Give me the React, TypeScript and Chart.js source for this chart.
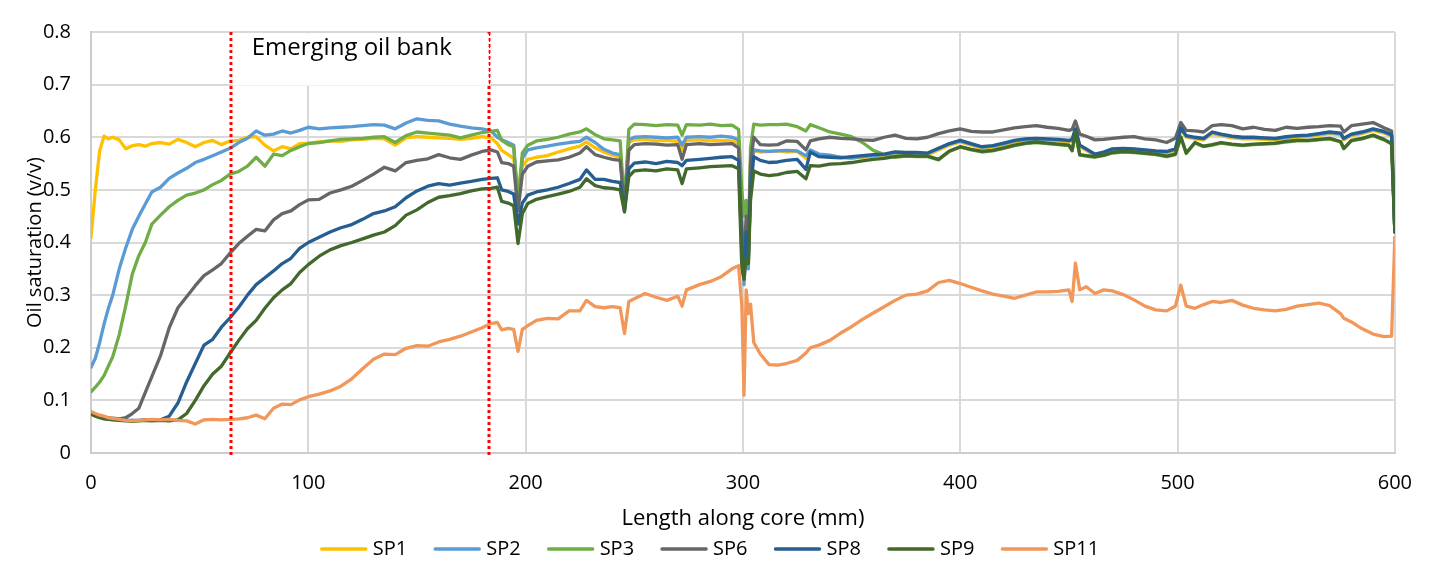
import { useEffect, useRef } from "react";
import { Chart, registerables } from "chart.js";

Chart.register(...registerables);

// Length along core (mm) – shared sample positions for all series
const lengthMm = [
  0, 2, 4, 6, 8, 10, 13, 16, 19, 22,
  25, 28, 32, 36, 40, 44, 48, 52, 56, 60,
  64, 68, 72, 76, 80, 84, 88, 92, 96, 100,
  105, 110, 115, 120, 125, 130, 135, 140, 145, 150,
  155, 160, 165, 170, 175, 180, 184, 187, 189, 192,
  194.5, 196.5, 198.5, 201, 205, 210, 215, 220, 225, 228,
  232, 236, 240, 243.5, 245.5, 247.5, 250, 255, 260, 265,
  270, 272, 274, 280, 285, 290, 295, 298, 299.5, 300.5,
  301.5, 302.5, 303.5, 305, 308, 312, 316, 320, 325, 329,
  331, 335, 340, 345, 350, 355, 360, 365, 370, 375,
  380, 385, 390, 395, 400, 405, 410, 415, 420, 425,
  430, 435, 440, 445, 450, 451.5, 453, 455, 458, 462,
  466, 470, 475, 480, 485, 490, 495, 499, 501.5, 504,
  508, 512, 516, 520, 525, 530, 535, 540, 545, 550,
  555, 560, 565, 570, 575, 576.5, 580, 585, 590, 595,
  598.5, 600,
];

const sp1 = [
  0.41, 0.5, 0.575, 0.602, 0.597, 0.6, 0.595, 0.578, 0.584, 0.586,
  0.583, 0.588, 0.59, 0.587, 0.596, 0.59, 0.582, 0.59, 0.594, 0.586,
  0.593, 0.594, 0.6, 0.601, 0.585, 0.574, 0.582, 0.578, 0.588, 0.589,
  0.591, 0.593, 0.592, 0.595, 0.596, 0.598, 0.597, 0.585, 0.599, 0.601,
  0.6, 0.599, 0.598, 0.596, 0.598, 0.601, 0.599, 0.588, 0.575, 0.567,
  0.56, 0.5, 0.545, 0.558, 0.562, 0.565, 0.572, 0.578, 0.583, 0.591,
  0.58, 0.572, 0.566, 0.562, 0.47, 0.59, 0.595, 0.596, 0.593, 0.594,
  0.592, 0.575, 0.594, 0.595, 0.593, 0.594, 0.593, 0.588, 0.45, 0.34,
  0.42, 0.36, 0.52, 0.574, 0.572, 0.573, 0.574, 0.572, 0.573, 0.56,
  0.575, 0.566, 0.565, 0.562, 0.56, 0.562, 0.564, 0.565, 0.569, 0.568,
  0.568, 0.567, 0.576, 0.585, 0.591, 0.585, 0.579, 0.581, 0.586, 0.591,
  0.594, 0.595, 0.594, 0.593, 0.591, 0.593, 0.612, 0.582, 0.575, 0.565,
  0.569, 0.575, 0.576, 0.575, 0.573, 0.571, 0.57, 0.575, 0.614, 0.6,
  0.597, 0.595, 0.607, 0.603, 0.599, 0.597, 0.597, 0.596, 0.595, 0.598,
  0.6, 0.601, 0.604, 0.607, 0.605, 0.595, 0.603, 0.607, 0.613, 0.608,
  0.602, 0.42,
];

const sp2 = [
  0.163, 0.18, 0.21, 0.245, 0.275, 0.3, 0.35, 0.39, 0.425, 0.45,
  0.473, 0.496, 0.505, 0.522, 0.532, 0.541, 0.552, 0.558, 0.565, 0.572,
  0.579, 0.59, 0.598, 0.612, 0.604, 0.606, 0.612, 0.608, 0.613, 0.619,
  0.616, 0.618, 0.619, 0.62, 0.622, 0.624, 0.623, 0.616, 0.627, 0.635,
  0.632, 0.631, 0.625, 0.621, 0.618, 0.616, 0.612, 0.6, 0.595, 0.59,
  0.585, 0.47, 0.56, 0.576, 0.58, 0.583, 0.587, 0.59, 0.592, 0.6,
  0.59, 0.577, 0.57, 0.567, 0.47, 0.595, 0.6, 0.601, 0.6, 0.599,
  0.6, 0.585, 0.6, 0.601, 0.6, 0.602, 0.6, 0.595, 0.43, 0.32,
  0.42, 0.35, 0.53, 0.576, 0.574, 0.573, 0.574, 0.575, 0.574, 0.565,
  0.576, 0.568, 0.566, 0.562, 0.561, 0.563, 0.565, 0.567, 0.571, 0.57,
  0.57, 0.569, 0.578, 0.587, 0.593, 0.587, 0.581, 0.583, 0.588, 0.593,
  0.596, 0.597, 0.596, 0.595, 0.593, 0.595, 0.615, 0.584, 0.577, 0.567,
  0.571, 0.577, 0.578, 0.577, 0.575, 0.573, 0.572, 0.577, 0.617, 0.602,
  0.599, 0.597, 0.609, 0.605, 0.601, 0.599, 0.599, 0.598, 0.597, 0.6,
  0.602, 0.603, 0.606, 0.609, 0.607, 0.597, 0.605, 0.609, 0.615, 0.61,
  0.604, 0.42,
];

const sp3 = [
  0.116, 0.125, 0.135, 0.147, 0.165, 0.183, 0.225, 0.28, 0.34, 0.375,
  0.4, 0.435, 0.452, 0.468, 0.48, 0.49, 0.494, 0.5, 0.51, 0.518,
  0.53, 0.535, 0.545, 0.562, 0.545, 0.568, 0.565, 0.575, 0.582, 0.588,
  0.59, 0.593, 0.596, 0.597, 0.598, 0.6, 0.601, 0.59, 0.603, 0.61,
  0.608, 0.606, 0.604, 0.599, 0.604, 0.609, 0.611, 0.613, 0.594, 0.586,
  0.582, 0.48, 0.57, 0.585, 0.593, 0.596, 0.6, 0.606, 0.61, 0.616,
  0.605, 0.597, 0.595, 0.593, 0.472, 0.615, 0.625, 0.624, 0.622, 0.624,
  0.623, 0.604, 0.624, 0.623, 0.625, 0.622, 0.623, 0.615, 0.5, 0.45,
  0.48, 0.4, 0.58, 0.625, 0.623, 0.624, 0.624, 0.625, 0.62, 0.612,
  0.624, 0.618, 0.61, 0.606, 0.601, 0.59, 0.575, 0.567, 0.562, 0.564,
  0.563, 0.563, 0.557, 0.573, 0.581, 0.576, 0.572, 0.574, 0.579, 0.584,
  0.588, 0.59, 0.588, 0.586, 0.584, 0.574, 0.609, 0.566, 0.564, 0.562,
  0.565, 0.57, 0.572, 0.571, 0.569, 0.567, 0.563, 0.567, 0.6, 0.569,
  0.589, 0.582, 0.585, 0.589, 0.586, 0.584, 0.586, 0.587, 0.588, 0.591,
  0.593, 0.593, 0.595, 0.597, 0.591, 0.578, 0.593, 0.597, 0.603, 0.595,
  0.587, 0.42,
];

const sp6 = [
  0.075, 0.072, 0.07, 0.068, 0.067, 0.066, 0.065, 0.067, 0.075, 0.085,
  0.115, 0.145, 0.185, 0.238, 0.276, 0.297, 0.318, 0.337, 0.348, 0.36,
  0.38, 0.398, 0.412, 0.425, 0.422, 0.443, 0.455, 0.46, 0.472, 0.481,
  0.482, 0.494, 0.5, 0.507, 0.518, 0.53, 0.543, 0.536, 0.552, 0.556,
  0.559, 0.567, 0.561, 0.558, 0.566, 0.573, 0.576, 0.572, 0.552, 0.55,
  0.545, 0.46, 0.53, 0.545, 0.553, 0.555, 0.557, 0.562, 0.57, 0.582,
  0.567, 0.562, 0.558, 0.556, 0.466, 0.575, 0.586, 0.588, 0.587, 0.585,
  0.586, 0.558, 0.586, 0.588, 0.586, 0.587, 0.588, 0.58, 0.42, 0.37,
  0.45, 0.4, 0.55, 0.6, 0.586, 0.585, 0.586, 0.593, 0.592, 0.576,
  0.593, 0.597, 0.6, 0.598, 0.597, 0.595, 0.594, 0.6, 0.604, 0.598,
  0.597, 0.6, 0.607, 0.612, 0.616, 0.611, 0.61, 0.61, 0.614, 0.618,
  0.62, 0.622, 0.619, 0.617, 0.613, 0.615, 0.631, 0.606, 0.602, 0.595,
  0.596, 0.598, 0.6, 0.601, 0.597, 0.595, 0.59, 0.598, 0.628, 0.613,
  0.612, 0.61, 0.622, 0.624, 0.622, 0.616, 0.619, 0.615, 0.613, 0.619,
  0.617, 0.619, 0.62, 0.622, 0.621, 0.61, 0.622, 0.625, 0.628, 0.618,
  0.612, 0.42,
];

const sp8 = [
  0.075, 0.071, 0.068, 0.066, 0.065, 0.064, 0.063, 0.062, 0.062, 0.062,
  0.063, 0.062, 0.063, 0.07, 0.095, 0.135, 0.17, 0.205, 0.216, 0.239,
  0.257, 0.277, 0.3, 0.32, 0.333, 0.346, 0.36, 0.37, 0.389, 0.4,
  0.41, 0.42, 0.428, 0.434, 0.444, 0.455, 0.46, 0.468, 0.485, 0.498,
  0.507, 0.512, 0.509, 0.513, 0.516, 0.52, 0.522, 0.523, 0.5, 0.497,
  0.492, 0.435, 0.475, 0.49, 0.496, 0.5, 0.505, 0.512, 0.52, 0.538,
  0.52, 0.52, 0.516, 0.514, 0.46, 0.54, 0.551, 0.553, 0.55, 0.554,
  0.552, 0.546, 0.556, 0.558, 0.56, 0.562, 0.563, 0.556, 0.38, 0.34,
  0.42, 0.37, 0.5, 0.563, 0.556, 0.552, 0.553, 0.556, 0.558, 0.539,
  0.572, 0.563, 0.562, 0.561, 0.563, 0.565, 0.567, 0.568, 0.572, 0.571,
  0.571, 0.57, 0.579, 0.588, 0.594, 0.588, 0.582, 0.584, 0.589, 0.594,
  0.597, 0.598, 0.597, 0.596, 0.594, 0.596, 0.616, 0.585, 0.578, 0.568,
  0.572, 0.578, 0.579, 0.578, 0.576, 0.574, 0.573, 0.578, 0.618, 0.603,
  0.6, 0.598, 0.61, 0.606, 0.602, 0.6, 0.6, 0.599, 0.598, 0.601,
  0.603, 0.604, 0.607, 0.61, 0.608, 0.598, 0.606, 0.61, 0.616, 0.611,
  0.605, 0.42,
];

const sp9 = [
  0.074, 0.07, 0.067, 0.065, 0.064, 0.063, 0.062, 0.061, 0.06, 0.061,
  0.062, 0.061, 0.062, 0.061, 0.063, 0.075, 0.1, 0.128, 0.15, 0.165,
  0.19, 0.214, 0.236, 0.252, 0.275, 0.295, 0.31, 0.322, 0.343, 0.358,
  0.374, 0.386, 0.394, 0.4, 0.407, 0.414, 0.42, 0.432, 0.452, 0.462,
  0.476, 0.486, 0.489, 0.493, 0.498, 0.502, 0.503, 0.505, 0.478, 0.475,
  0.47, 0.398, 0.455, 0.474, 0.482, 0.487, 0.492, 0.497, 0.505, 0.521,
  0.508, 0.504, 0.503, 0.5, 0.458, 0.525, 0.536, 0.538, 0.536, 0.54,
  0.538, 0.512, 0.54, 0.542, 0.544, 0.545, 0.546, 0.54, 0.35, 0.33,
  0.37, 0.36, 0.48, 0.536, 0.53, 0.527, 0.529, 0.533, 0.535, 0.521,
  0.546, 0.545, 0.549, 0.55, 0.552, 0.555, 0.558, 0.56, 0.563, 0.565,
  0.564, 0.564, 0.558, 0.574, 0.582, 0.577, 0.573, 0.575, 0.58, 0.585,
  0.589, 0.591, 0.589, 0.587, 0.585, 0.575, 0.61, 0.567, 0.565, 0.563,
  0.566, 0.571, 0.573, 0.572, 0.57, 0.568, 0.564, 0.568, 0.601, 0.57,
  0.59, 0.583, 0.586, 0.59, 0.587, 0.585, 0.587, 0.588, 0.589, 0.592,
  0.594, 0.594, 0.596, 0.598, 0.592, 0.579, 0.594, 0.598, 0.604, 0.596,
  0.588, 0.42,
];

const sp11 = [
  0.079, 0.075, 0.072, 0.07, 0.067, 0.066, 0.064, 0.062, 0.061, 0.062,
  0.063, 0.064, 0.063, 0.064, 0.062, 0.061, 0.055, 0.063, 0.064, 0.063,
  0.064, 0.065, 0.067, 0.072, 0.065, 0.085, 0.093, 0.092, 0.101, 0.107,
  0.112, 0.118, 0.127, 0.141, 0.16, 0.178, 0.188, 0.187, 0.199, 0.204,
  0.203, 0.211, 0.216, 0.222, 0.23, 0.238, 0.246, 0.248, 0.234, 0.237,
  0.235, 0.193, 0.235, 0.242, 0.252, 0.256, 0.255, 0.27, 0.27, 0.29,
  0.278, 0.276, 0.278, 0.276, 0.227, 0.288, 0.293, 0.303, 0.296, 0.29,
  0.298, 0.279, 0.31, 0.32, 0.326, 0.335, 0.35, 0.356, 0.28, 0.11,
  0.31, 0.265, 0.283, 0.21, 0.188, 0.168, 0.167, 0.17, 0.176, 0.19,
  0.2, 0.205, 0.214, 0.228, 0.24, 0.254, 0.266, 0.278, 0.29, 0.3,
  0.302, 0.308, 0.324, 0.328, 0.322, 0.315, 0.308, 0.302, 0.298, 0.294,
  0.3, 0.306, 0.306, 0.307, 0.31, 0.288, 0.361, 0.31, 0.316, 0.303,
  0.31, 0.308, 0.301, 0.291, 0.279, 0.272, 0.27, 0.279, 0.319, 0.279,
  0.275, 0.282, 0.288, 0.286, 0.29, 0.281, 0.275, 0.272, 0.27, 0.273,
  0.279, 0.282, 0.285, 0.28, 0.265, 0.256, 0.249, 0.236, 0.226, 0.221,
  0.222, 0.41,
];

const seriesNames = ["SP1", "SP2", "SP3", "SP6", "SP8", "SP9", "SP11"];
const seriesColors = ["#FFC000", "#5B9BD5", "#70AD47", "#666666", "#255E91", "#43682B", "#F1975A"];

const xTickValues = [0, 100, 200, 300, 400, 500, 600];
const yTickValues = [0, 0.1, 0.2, 0.3, 0.4, 0.5, 0.6, 0.7, 0.8];

// oil-bank front positions (mm) marked by red dotted lines
const bankEdgesMm = [64.3, 183.2];
const bankLabel = "Emerging oil bank";
const xTitle = "Length along core (mm)";
const yTitle = "Oil saturation (v/v)";

const FONT = "'Open Sans', 'Noto Sans', sans-serif";

export default function App() {
  const ref = useRef<HTMLCanvasElement | null>(null);

  useEffect(() => {
    document.body.style.margin = "0";
    const canvas = ref.current;
    if (!canvas) return;
    const series = [sp1, sp2, sp3, sp6, sp8, sp9, sp11];

    const datasets = series.map((vals, i) => ({
      label: seriesNames[i],
      data: lengthMm.map((x, j) => ({ x, y: vals[j] })),
      borderColor: seriesColors[i],
      backgroundColor: seriesColors[i],
      borderWidth: 3.3,
      pointRadius: 0,
      pointHoverRadius: 0,
      fill: false,
      tension: 0,
      borderJoinStyle: "round" as const,
      borderCapStyle: "round" as const,
      order: series.length - 1 - i,
    }));

    const overlay = {
      id: "overlay",
      afterDatasetsDraw(chart: any) {
        const { ctx, chartArea, scales } = chart;
        const xs = scales.x;
        ctx.save();
        // red dotted lines
        ctx.strokeStyle = "#FF0000";
        ctx.lineWidth = 3;
        ctx.setLineDash([3, 3]);
        bankEdgesMm.forEach((mm) => {
          const px = Math.round(xs.getPixelForValue(mm));
          ctx.beginPath();
          ctx.moveTo(px, chartArea.top);
          ctx.lineTo(px, chartArea.bottom + 3);
          ctx.stroke();
        });
        // white text box
        const x0 = xs.getPixelForValue(bankEdgesMm[0]) + 2;
        const x1 = xs.getPixelForValue(bankEdgesMm[1]) - 0.5;
        const yBottom = scales.y.getPixelForValue(0.7) + 1;
        ctx.setLineDash([]);
        ctx.fillStyle = "#ffffff";
        ctx.fillRect(x0, chartArea.top + 1.5, x1 - x0, yBottom - chartArea.top - 1.5);
        // thin dashed right edge
        ctx.strokeStyle = "#FF0000";
        ctx.lineWidth = 1;
        ctx.setLineDash([4, 2]);
        ctx.beginPath();
        ctx.moveTo(Math.round(x1) + 0.5, chartArea.top);
        ctx.lineTo(Math.round(x1) + 0.5, yBottom);
        ctx.stroke();
        ctx.setLineDash([]);
        ctx.fillStyle = "#000000";
        ctx.font = `24px ${FONT}`;
        ctx.textAlign = "left";
        ctx.textBaseline = "alphabetic";
        ctx.fillText(bankLabel, x0 + 19, 55);
        ctx.restore();
      },
      afterDraw(chart: any) {
        const { ctx, chartArea } = chart;
        ctx.save();
        ctx.fillStyle = "#000000";
        ctx.textAlign = "center";
        ctx.textBaseline = "middle";
        // x title
        ctx.font = `22px ${FONT}`;
        ctx.fillText(xTitle, (chartArea.left + chartArea.right) / 2, 519);
        // y title
        ctx.font = `20px ${FONT}`;
        ctx.save();
        ctx.translate(35, (chartArea.top + chartArea.bottom) / 2);
        ctx.rotate(-Math.PI / 2);
        ctx.fillText(yTitle, 0, 0);
        ctx.restore();
        // legend
        const lineLen = 48;
        const gapLine = 5;
        const gapItem = 26;
        const widths = seriesNames.map((n) => ctx.measureText(n).width);
        const total = widths.reduce((s, w) => s + lineLen + gapLine + w, 0) + gapItem * (seriesNames.length - 1);
        let x = 709.5 - total / 2;
        const ly = 549;
        ctx.textAlign = "left";
        seriesNames.forEach((n, i) => {
          ctx.strokeStyle = seriesColors[i];
          ctx.lineWidth = 3.5;
          ctx.lineCap = "round";
          ctx.beginPath();
          ctx.moveTo(x + 2, ly);
          ctx.lineTo(x + lineLen - 2, ly);
          ctx.stroke();
          ctx.fillText(n, x + lineLen + gapLine, ly);
          x += lineLen + gapLine + widths[i] + gapItem;
        });
        ctx.restore();
      },
    };

    const chart = new Chart(canvas, {
      type: "line",
      data: { datasets },
      plugins: [overlay],
      options: {
        responsive: false,
        animation: false,
        devicePixelRatio: 1,
        layout: { padding: { top: 18, right: 32, left: 0, bottom: 0 } },
        plugins: {
          legend: { display: false },
          tooltip: { enabled: false },
          title: { display: false },
        },
        scales: {
          x: {
            type: "linear",
            min: 0,
            max: 600,
            afterBuildTicks: (scale: any) => {
              scale.ticks = xTickValues.map((v) => ({ value: v }));
            },
            afterFit: (scale: any) => {
              scale.height = 113;
            },
            ticks: {
              color: "#000000",
              font: { family: FONT, size: 20 },
              padding: 18,
              maxRotation: 0,
            },
            grid: { color: "#d9d9d9", lineWidth: 2, drawTicks: false },
            border: { display: true, color: "#cccccc", width: 2 },
          },
          y: {
            type: "linear",
            min: 0,
            max: 0.8,
            afterBuildTicks: (scale: any) => {
              scale.ticks = yTickValues.map((v) => ({ value: v }));
            },
            afterFit: (scale: any) => {
              scale.width = 91;
            },
            ticks: {
              color: "#000000",
              font: { family: FONT, size: 20 },
              padding: 20,
              callback: (v: any) => String(Number(Number(v).toFixed(1))),
            },
            grid: { color: "#d9d9d9", lineWidth: 2, drawTicks: false },
            border: { display: true, color: "#cccccc", width: 2 },
          },
        },
      },
    });

    return () => chart.destroy();
  }, []);

  return (
    <div style={{ width: 1430, height: 566, position: "relative", background: "#ffffff" }}>
      <canvas ref={ref} width={1430} height={566} style={{ display: "block" }} />
    </div>
  );
}
